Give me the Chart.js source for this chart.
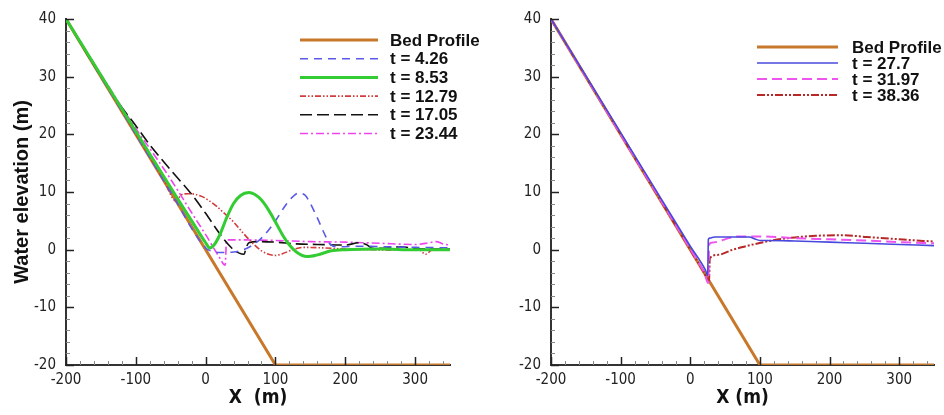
<!DOCTYPE html>
<html>
<head>
<meta charset="utf-8">
<title>Water elevation</title>
<script src="https://cdn.jsdelivr.net/npm/chart.js@4.4.1/dist/chart.umd.min.js"></script>
<style>
  html, body { margin: 0; padding: 0; background: #fff; }
  #wrap { position: relative; width: 944px; height: 415px; overflow: hidden; }
  #leftBox { position: absolute; left: 0; top: 0; }
  #rightBox { position: absolute; left: 472px; top: 0; }
</style>
</head>
<body>
<div id="wrap">
  <div id="leftBox"><canvas id="leftChart" width="500" height="415"></canvas></div>
  <div id="rightBox"><canvas id="rightChart" width="472" height="415"></canvas></div>
</div>
<script>
// axes
const X_TICKS = [-200, -100, 0, 100, 200, 300];
const Y_TICKS = [-20, -10, 0, 10, 20, 30, 40];
const X_MINOR = 20;
const Y_MINOR = 2;

// bed profile (same in both panels)
const BED_X = [-200, 100, 350];
const BED_Y = [40, -20, -20];

// left panel
const T426_X = [-200, -100, -50, 0, 10, 20, 40, 60, 80, 100, 115, 125, 133, 142, 150, 160, 170, 178, 190, 220, 260, 300, 350];
const T426_Y = [40, 20, 10, 0.3, -0.3, -0.5, -0.4, 0.3, 2, 5, 7.8, 9.2, 9.8, 9.5, 8, 5.5, 2.8, 1, 0.5, 0.6, 0.5, 0.4, 0.3];

const T853_X = [-200, -100, -39, -20, 0, 6, 12, 20, 30, 40, 50, 62, 70, 80, 90, 100, 110, 120, 130, 145, 160, 180, 200, 250, 300, 350];
const T853_Y = [40, 20.5, 8.6, 5.0, 1.2, 0.3, 0.8, 2.5, 5.5, 8, 9.4, 9.9, 9.6, 8.6, 6.9, 4.8, 2.6, 0.8, -0.4, -1.2, -0.9, -0.2, 0, 0.1, 0, 0];

const T1279_X = [-200, -100, -60, -42, -35, -25, -15, -5, 5, 15, 25, 40, 55, 70, 80, 90, 100, 110, 125, 140, 170, 200, 240, 280, 305, 315, 325, 350];
const T1279_Y = [40, 20, 12, 8.4, 9.5, 9.7, 9.6, 9.2, 8.5, 7.6, 6.5, 4.8, 2.7, 0.8, -0.2, -0.8, -1.0, -0.7, 0, 0.4, 0.3, 0.1, 0, -0.1, 0, -0.8, 0, 0];

const T1705_X = [-200, -160, -130, -100, -80, -50, -20, 0, 20, 38, 48, 55, 58, 62, 80, 100, 130, 160, 200, 220, 230, 240, 260, 280, 300, 350];
const T1705_Y = [40, 32, 26.3, 21.5, 18.2, 13.8, 9.6, 6.3, 2.8, 0.2, -0.6, -0.8, 0.3, 1.2, 1.4, 1.3, 1.0, 0.9, 0.8, 1.2, 0.9, 0.2, 0.3, 0.5, 0.2, 0.1];

const T2344_X = [-200, -150, -100, -78, -50, -20, 0, 10, 20, 28, 30, 50, 100, 150, 200, 250, 300, 320, 330, 340, 350];
const T2344_Y = [40, 30.4, 21, 17.2, 12.2, 6.4, 2.6, 0.6, -1.4, -2.7, 1.7, 1.7, 1.6, 1.4, 1.3, 1.1, 0.9, 1.2, 1.4, 1.0, 0.8];

// right panel
const T277_X = [-200, -100, 0, 22, 25, 26, 28, 35, 60, 85, 92, 100, 110, 150, 200, 250, 300, 350];
const T277_Y = [40, 20.3, 0.6, -3.6, -4.5, 1.8, 2.0, 2.2, 2.2, 2.2, 1.9, 1.6, 1.6, 1.5, 1.3, 1.1, 0.9, 0.7];

const T3197_X = [-200, -100, 0, 20, 26, 27, 30, 40, 55, 70, 100, 150, 200, 250, 300, 350];
const T3197_Y = [40, 20, 0.1, -4, -5.8, 0.8, 1.2, 1.4, 2.0, 2.3, 2.3, 2.0, 1.8, 1.6, 1.3, 1.1];

const T3836_X = [-200, -100, 0, 20, 27, 28, 40, 61, 80, 109, 140, 180, 220, 253, 300, 350];
const T3836_Y = [40, 20, 0, -4, -5.5, -1.5, -0.9, 0, 0.6, 1.4, 2.0, 2.4, 2.5, 2.2, 1.8, 1.4];

const TICK_FONT = "'Liberation Sans Narrow', 'DejaVu Sans Condensed', 'Liberation Sans', Arial, sans-serif";
const LEGEND_FONT = "'Liberation Sans', Arial, sans-serif";

function pts(xs, ys) {
  return xs.map((x, i) => ({ x: x, y: ys[i] }));
}

function series(label, xs, ys, color, width, dash, straight) {
  return {
    label: label,
    data: pts(xs, ys),
    borderColor: color,
    backgroundColor: color,
    borderWidth: width,
    borderDash: dash || [],
    pointRadius: 0,
    showLine: true,
    tension: 0,
    cubicInterpolationMode: straight ? "default" : "monotone",
    fill: false
  };
}

// inward major/minor ticks
const innerTicks = {
  id: "innerTicks",
  afterDraw(chart) {
    const { ctx, chartArea: a, scales } = chart;
    const xs = scales.x, ys = scales.y;
    ctx.save();
    ctx.lineWidth = 1;
    ctx.strokeStyle = "#888";
    for (let v = xs.min; v <= xs.max; v += X_MINOR) {
      if (X_TICKS.includes(v)) continue;
      const px = Math.round(xs.getPixelForValue(v)) + 0.5;
      ctx.beginPath(); ctx.moveTo(px, a.bottom); ctx.lineTo(px, a.bottom - 4); ctx.stroke();
    }
    for (let v = ys.min; v <= ys.max; v += Y_MINOR) {
      if (Y_TICKS.includes(v)) continue;
      const py = Math.round(ys.getPixelForValue(v)) + 0.5;
      ctx.beginPath(); ctx.moveTo(a.left, py); ctx.lineTo(a.left + 4, py); ctx.stroke();
    }
    ctx.strokeStyle = "#222";
    ctx.lineWidth = 1.5;
    X_TICKS.forEach((v) => {
      const px = Math.round(xs.getPixelForValue(v)) + 0.5;
      ctx.beginPath(); ctx.moveTo(px, a.bottom); ctx.lineTo(px, a.bottom - 8); ctx.stroke();
    });
    Y_TICKS.forEach((v) => {
      const py = Math.round(ys.getPixelForValue(v)) + 0.5;
      ctx.beginPath(); ctx.moveTo(a.left, py); ctx.lineTo(a.left + 8, py); ctx.stroke();
    });
    ctx.restore();
  }
};

// legend drawn inside the plot area
const inLegend = {
  id: "inLegend",
  afterDraw(chart, args, opts) {
    const { ctx } = chart;
    ctx.save();
    ctx.font = "bold 17px " + LEGEND_FONT;
    ctx.textBaseline = "middle";
    ctx.fillStyle = "#111";
    opts.order.forEach((idx, i) => {
      const ds = chart.data.datasets[idx];
      const y = opts.y0 + i * opts.dy;
      ctx.strokeStyle = ds.borderColor;
      ctx.lineWidth = ds.borderWidth;
      ctx.setLineDash(ds.borderDash);
      ctx.beginPath(); ctx.moveTo(opts.x0, y); ctx.lineTo(opts.x1, y); ctx.stroke();
      ctx.setLineDash([]);
      ctx.fillText(ds.label, opts.tx, y + 1);
    });
    ctx.restore();
  }
};

function makeOptions(yAxisWidth, showYTitle, xTitle, rightPad, legendOpts) {
  return {
    responsive: false,
    animation: false,
    layout: { padding: { top: 19, right: rightPad, left: 0, bottom: 0 } },
    plugins: {
      legend: { display: false },
      tooltip: { enabled: false },
      inLegend: legendOpts
    },
    scales: {
      x: {
        type: "linear",
        min: -200,
        max: 350,
        afterBuildTicks: (s) => { s.ticks = X_TICKS.map((v) => ({ value: v })); },
        afterFit: (s) => { s.height = 50; },
        grid: { display: false },
        border: { display: true, color: "#333", width: 2 },
        ticks: { color: "#222", padding: -2, maxRotation: 0, font: { family: TICK_FONT, size: 15 } },
        title: {
          display: true,
          text: xTitle,
          color: "#111",
          padding: { top: 0, bottom: 6 },
          font: { family: TICK_FONT, size: 19, weight: "bold" }
        }
      },
      y: {
        type: "linear",
        min: -20,
        max: 40,
        afterBuildTicks: (s) => { s.ticks = Y_TICKS.map((v) => ({ value: v })); },
        afterFit: (s) => { s.width = yAxisWidth; },
        grid: { display: false },
        border: { display: true, color: "#333", width: 2 },
        ticks: { color: "#222", padding: 2, font: { family: TICK_FONT, size: 15 } },
        title: {
          display: showYTitle,
          text: "Water elevation (m)",
          color: "#111",
          padding: { top: 10, bottom: 0 },
          font: { family: LEGEND_FONT, size: 20, weight: "bold" }
        }
      }
    }
  };
}

const BED_COLOR = "#c8782a";

new Chart(document.getElementById("leftChart"), {
  type: "scatter",
  data: {
    datasets: [
      series("t = 8.53", T853_X, T853_Y, "#33cc33", 3),
      series("t = 4.26", T426_X, T426_Y, "#5a5ae6", 1.6, [8, 6]),
      series("t = 12.79", T1279_X, T1279_Y, "#d23c3c", 1.6, [6, 2, 1.5, 2, 1.5, 2]),
      series("t = 17.05", T1705_X, T1705_Y, "#111111", 1.6, [12, 5]),
      series("t = 23.44", T2344_X, T2344_Y, "#ee44ee", 1.6, [8, 3, 2, 3]),
      series("Bed Profile", BED_X, BED_Y, BED_COLOR, 3, [], true)
    ]
  },
  options: makeOptions(66, true, "X  (m)", 50, { order: [5, 1, 0, 2, 3, 4], x0: 300, x1: 378, tx: 390, y0: 40, dy: 18.7 }),
  plugins: [innerTicks, inLegend]
});

new Chart(document.getElementById("rightChart"), {
  type: "scatter",
  data: {
    datasets: [
      series("t = 27.7", T277_X, T277_Y, "#4848dd", 1.6),
      series("t = 31.97", T3197_X, T3197_Y, "#ee55ee", 2, [10, 5]),
      series("t = 38.36", T3836_X, T3836_Y, "#b82828", 2, [8, 2, 2, 2, 2, 2]),
      series("Bed Profile", BED_X, BED_Y, BED_COLOR, 3, [], true)
    ]
  },
  options: makeOptions(79, false, "X (m)", 10, { order: [3, 0, 1, 2], x0: 285, x1: 366, tx: 380, y0: 47, dy: 16 }),
  plugins: [innerTicks, inLegend]
});
</script>
</body>
</html>
